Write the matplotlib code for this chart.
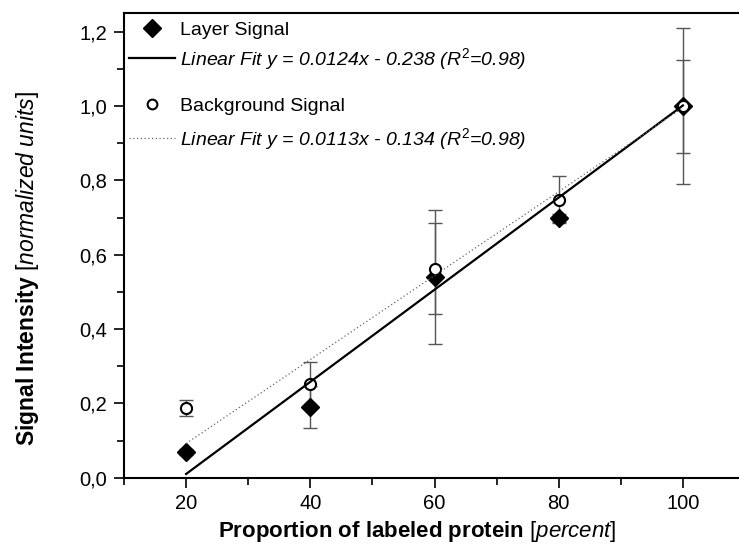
import matplotlib
matplotlib.use("Agg")
import matplotlib.pyplot as plt
from matplotlib.ticker import MultipleLocator, FuncFormatter
from matplotlib.lines import Line2D
import numpy as np

plt.rcParams['font.family'] = ['Liberation Sans', 'DejaVu Sans']
plt.rcParams['mathtext.fontset'] = 'custom'
plt.rcParams['mathtext.rm'] = 'Liberation Sans'
plt.rcParams['mathtext.it'] = 'Liberation Sans:italic'
plt.rcParams['mathtext.bf'] = 'Liberation Sans:bold'

# data
proportion = [20, 40, 60, 80, 100]
layer_signal = [0.068, 0.191, 0.540, 0.699, 1.000]
layer_err = [0.008, 0.056, 0.180, 0.012, 0.210]
background_signal = [0.187, 0.252, 0.563, 0.748, 1.000]
background_err = [0.022, 0.060, 0.123, 0.063, 0.125]

# linear fits as given in the legend
layer_fit = (0.0124, -0.238)
background_fit = (0.0113, -0.134)

fig = plt.figure(figsize=(7.39, 5.51), dpi=100)
ax = fig.add_axes([124/739, 1-477.7/551, 621/739, (477.7-13.3)/551])

err_style = dict(fmt='none', ecolor='#555555', elinewidth=1.0, capsize=5, capthick=1.0)
ax.errorbar(proportion, layer_signal, yerr=layer_err, zorder=1, **err_style)
ax.errorbar(proportion, background_signal, yerr=background_err, zorder=1, **err_style)

ax.plot(proportion, layer_signal, linestyle='none', marker='D', markersize=9,
        color='black', zorder=2)
ax.plot(proportion, background_signal, linestyle='none', marker='o', markersize=8,
        markerfacecolor='white', markeredgecolor='black', markeredgewidth=1.5, zorder=3)

xfit = np.array([proportion[0], proportion[-1]])
ax.plot(xfit, layer_fit[0]*xfit + layer_fit[1], color='black', lw=1.6, zorder=4)
ax.plot(xfit, background_fit[0]*xfit + background_fit[1], color='#666666', lw=0.9,
        linestyle=(0, (1, 2)), zorder=4)

ax.set_xlim(10, 110)
ax.set_ylim(0, 1.25)
ax.xaxis.set_major_locator(MultipleLocator(20))
ax.xaxis.set_minor_locator(MultipleLocator(10))
ax.yaxis.set_major_locator(MultipleLocator(0.2))
ax.yaxis.set_minor_locator(MultipleLocator(0.1))
ax.yaxis.set_major_formatter(FuncFormatter(lambda v, p: f"{v:.1f}".replace('.', ',')))
ax.tick_params(which='both', direction='out', top=False, right=False, width=1.2,
               labelsize=14.5, pad=5)
ax.tick_params(which='major', length=7)
ax.tick_params(which='minor', length=5)
for s in ax.spines.values():
    s.set_linewidth(1.5)

ax.set_xlabel(r"Proportion of labeled protein $\mathit{[percent]}$", fontsize=16,
              fontweight='bold')
ax.set_ylabel(r"Signal Intensity $\mathit{[normalized\ units]}$", fontsize=16.5,
              fontweight='bold')
ax.xaxis.set_label_coords(0.473, -0.09)
ax.yaxis.set_label_coords(-0.133, 0.45)

h1 = [Line2D([], [], linestyle='none', marker='D', markersize=9, color='black'),
      Line2D([], [], color='black', lw=1.6)]
l1 = ["Layer Signal", "Linear Fit y = 0.0124x - 0.238 ($R^2$=0.98)"]
h2 = [Line2D([], [], linestyle='none', marker='o', markersize=7, markerfacecolor='white',
             markeredgecolor='black', markeredgewidth=1.5),
      Line2D([], [], color='#666666', lw=0.9, linestyle=(0, (1, 2)))]
l2 = ["Background Signal", "Linear Fit y = 0.0113x - 0.134 ($R^2$=0.98)"]

leg_kw = dict(frameon=False, fontsize=14, handlelength=2.4, handletextpad=0.25,
              borderpad=0, loc='upper left')
leg1 = ax.legend(h1, l1, bbox_to_anchor=(-0.008, 1.003), labelspacing=0.35, **leg_kw)
leg1.get_texts()[1].set_style('italic')
ax.add_artist(leg1)
leg2 = ax.legend(h2, l2, bbox_to_anchor=(-0.008, 0.84), labelspacing=0.55, **leg_kw)
leg2.get_texts()[1].set_style('italic')

fig.savefig("out.png", dpi=100)
